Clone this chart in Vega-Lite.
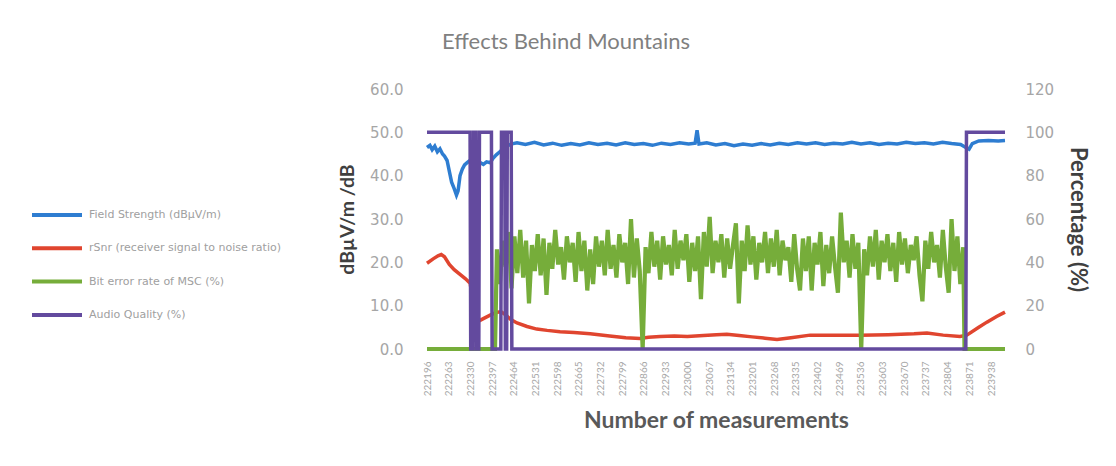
{
 "$schema": "https://vega.github.io/schema/vega-lite/v6.json",
 "width": 578, "height": 260,
 "autosize": {"type": "none"},
 "padding": {"left": 427, "top": 89, "right": 111, "bottom": 117},
 "background": "white",
 "config": {"view": {"stroke": null}, "font": "Lato", "axis": {"grid": false, "domain": false, "ticks": false}},
 "title": {"text": "Effects Behind Mountains", "fontSize": 22, "font": "Lato", "fontWeight": "normal", "color": "#808080", "anchor": "middle", "frame": "group", "dx": -150, "offset": 28},
 "encoding": {
  "x": {"field": "m", "type": "quantitative",
   "scale": {"domain": [222196, 223981], "nice": false, "zero": false},
   "axis": {"values": [222196,222263,222330,222397,222464,222531,222598,222665,222732,222799,222866,222933,223000,223067,223134,223201,223268,223335,223402,223469,223536,223603,223670,223737,223804,223871,223938],
    "format": "d", "labelAngle": -90, "labelFontSize": 10, "labelColor": "#a6a6a6", "labelPadding": 12,
    "title": "Number of measurements", "titleFontSize": 23, "titleFontWeight": "bold", "titleColor": "#595959", "titlePadding": 14}}
 },
 "layer": [
  {
   "encoding": {"y": {"field": "v", "type": "quantitative", "scale": {"domain": [0, 60], "nice": false},
     "axis": {"orient": "left", "values": [0,10,20,30,40,50,60], "format": ".1f", "labelFont": "DejaVu Sans", "labelFontSize": 15, "labelColor": "#a6a6a6", "labelPadding": 24,
      "title": "dBµV/m /dB", "titleFontSize": 19.5, "titleFontWeight": "bold", "titleColor": "#404040", "titlePadding": 12}}},
   "layer": [
    {
     "data": {"values": [
      {"m":222196,"v":46.5},{"m":222205,"v":47},{"m":222212,"v":46},{"m":222220,"v":46.8},{"m":222228,"v":45.5},{"m":222236,"v":46.2},{"m":222244,"v":45},{"m":222250,"v":44.5},{"m":222258,"v":43.5},{"m":222265,"v":41},{"m":222272,"v":38.5},{"m":222280,"v":37},{"m":222287,"v":35.5},{"m":222292,"v":36.5},{"m":222298,"v":40},{"m":222305,"v":41.5},{"m":222312,"v":42.5},{"m":222320,"v":43},{"m":222330,"v":43.6},{"m":222340,"v":43.2},{"m":222350,"v":43.8},{"m":222360,"v":43},{"m":222370,"v":42.6},{"m":222380,"v":43.2},{"m":222391,"v":43},{"m":222400,"v":44},{"m":222410,"v":44.8},{"m":222421,"v":45.5},{"m":222431,"v":46.3},{"m":222443,"v":46.8},{"m":222455,"v":47.3},
      {"m":222474,"v":47.6},{"m":222500,"v":47.2},{"m":222528,"v":47.7},{"m":222556,"v":47.1},{"m":222584,"v":47.5},{"m":222612,"v":47.0},{"m":222640,"v":47.4},{"m":222668,"v":47.1},{"m":222696,"v":47.6},{"m":222724,"v":47.2},{"m":222752,"v":47.5},{"m":222780,"v":47.1},{"m":222808,"v":47.6},{"m":222836,"v":47.2},{"m":222864,"v":47.4},{"m":222892,"v":47.0},{"m":222920,"v":47.5},{"m":222948,"v":47.2},{"m":222976,"v":47.6},{"m":223004,"v":47.3},{"m":223024,"v":47.5},{"m":223030,"v":50.5},{"m":223036,"v":47.3},{"m":223060,"v":47.6},{"m":223088,"v":47.1},{"m":223116,"v":47.4},{"m":223144,"v":46.9},{"m":223172,"v":47.3},{"m":223200,"v":47.0},{"m":223228,"v":47.4},{"m":223256,"v":47.1},{"m":223284,"v":47.5},{"m":223312,"v":47.2},{"m":223340,"v":47.6},{"m":223368,"v":47.3},{"m":223396,"v":47.6},{"m":223424,"v":47.2},{"m":223452,"v":47.5},{"m":223480,"v":47.3},{"m":223508,"v":47.7},{"m":223536,"v":47.3},{"m":223564,"v":47.6},{"m":223592,"v":47.2},{"m":223620,"v":47.5},{"m":223648,"v":47.3},{"m":223676,"v":47.7},{"m":223704,"v":47.4},{"m":223732,"v":47.6},{"m":223760,"v":47.3},{"m":223788,"v":47.7},{"m":223816,"v":47.4},{"m":223844,"v":47.2},{"m":223860,"v":46.5},{"m":223870,"v":46.1},{"m":223880,"v":47.4},{"m":223900,"v":48.0},{"m":223930,"v":48.1},{"m":223960,"v":48.0},{"m":223981,"v":48.1}
     ]},
     "mark": {"type": "line", "strokeWidth": 3.5},
     "encoding": {"color": {"datum": "Field Strength (dBµV/m)",
      "scale": {"domain": ["Field Strength (dBµV/m)", "rSnr (receiver signal to noise ratio)", "Bit error rate of MSC (%)", "Audio Quality (%)"], "range": ["#2e7dd1", "#e0452f", "#76ad3a", "#634a9e"]},
      "legend": {"orient": "none", "legendX": -397, "legendY": 118, "title": null, "symbolType": "stroke", "symbolSize": 2500, "symbolStrokeWidth": 4, "clipHeight": 16, "rowPadding": 17.3, "labelFont": "DejaVu Sans", "labelFontSize": 11, "labelColor": "#a0a0a0", "labelOffset": 5, "labelLimit": 400, "padding": 0}}}
    },
    {
     "data": {"values": [
      {"m":222196,"v":19.8},{"m":222215,"v":20.8},{"m":222230,"v":21.5},{"m":222240,"v":21.8},{"m":222250,"v":21.3},{"m":222265,"v":19.5},{"m":222280,"v":18.3},{"m":222298,"v":17.2},{"m":222315,"v":16.2},{"m":222329,"v":15.2},{"m":222350,"v":6.2},{"m":222370,"v":7},{"m":222391,"v":7.8},{"m":222412,"v":8.5},{"m":222425,"v":8.6},{"m":222440,"v":7.8},{"m":222455,"v":6.8},{"m":222474,"v":6},{"m":222505,"v":5.2},{"m":222535,"v":4.6},{"m":222567,"v":4.3},{"m":222607,"v":4},{"m":222650,"v":3.8},{"m":222700,"v":3.5},{"m":222760,"v":3.0},{"m":222810,"v":2.6},{"m":222854,"v":2.4},{"m":222880,"v":2.7},{"m":222916,"v":2.9},{"m":222960,"v":3.0},{"m":223000,"v":2.9},{"m":223050,"v":3.1},{"m":223090,"v":3.3},{"m":223122,"v":3.4},{"m":223160,"v":3.1},{"m":223200,"v":2.8},{"m":223240,"v":2.5},{"m":223277,"v":2.2},{"m":223320,"v":2.6},{"m":223379,"v":3.2},{"m":223450,"v":3.2},{"m":223533,"v":3.2},{"m":223620,"v":3.3},{"m":223700,"v":3.5},{"m":223740,"v":3.7},{"m":223790,"v":3.2},{"m":223842,"v":2.9},{"m":223863,"v":3.2},{"m":223900,"v":5},{"m":223925,"v":6.2},{"m":223955,"v":7.5},{"m":223981,"v":8.5}
     ]},
     "mark": {"type": "line", "strokeWidth": 3.5},
     "encoding": {"color": {"datum": "rSnr (receiver signal to noise ratio)"}}
    }
   ]
  },
  {
   "encoding": {"y": {"field": "v", "type": "quantitative", "scale": {"domain": [0, 120], "nice": false},
     "axis": {"orient": "right", "values": [0,20,40,60,80,100,120], "format": "d", "labelFont": "DejaVu Sans", "labelFontSize": 15, "labelColor": "#a6a6a6", "labelPadding": 20,
      "title": "Percentage (%)", "titleFontSize": 22, "titleFontWeight": "bold", "titleColor": "#404040", "titlePadding": 12}}},
   "layer": [
    {
     "data": {"values": [
      {"m":222196,"v":0},{"m":222406,"v":0},
      {"m":222412,"v":46},{"m":222421,"v":30},{"m":222430,"v":50},{"m":222439,"v":38},{"m":222448,"v":54},{"m":222457,"v":28},{"m":222466,"v":52},{"m":222475,"v":35},{"m":222484,"v":55},{"m":222493,"v":33},
      {"m":222502,"v":50},{"m":222511,"v":21},{"m":222520,"v":48},{"m":222529,"v":36},{"m":222538,"v":53},{"m":222547,"v":34},{"m":222556,"v":51},{"m":222565,"v":25},{"m":222574,"v":49},{"m":222583,"v":37},
      {"m":222592,"v":55},{"m":222601,"v":39},{"m":222610,"v":47},{"m":222619,"v":32},{"m":222628,"v":52},{"m":222637,"v":40},{"m":222646,"v":49},{"m":222655,"v":31},{"m":222664,"v":54},{"m":222673,"v":36},
      {"m":222682,"v":50},{"m":222691,"v":27},{"m":222700,"v":46},{"m":222709,"v":30},{"m":222718,"v":52},{"m":222727,"v":38},{"m":222736,"v":50},{"m":222745,"v":34},{"m":222754,"v":55},{"m":222763,"v":37},
      {"m":222772,"v":48},{"m":222781,"v":33},{"m":222790,"v":53},{"m":222799,"v":40},{"m":222808,"v":49},{"m":222817,"v":30},{"m":222826,"v":60},{"m":222835,"v":33},{"m":222844,"v":51},{"m":222853,"v":36},
      {"m":222862,"v":0},{"m":222871,"v":47},{"m":222880,"v":35},{"m":222889,"v":54},{"m":222898,"v":38},{"m":222907,"v":50},{"m":222916,"v":32},{"m":222925,"v":52},{"m":222934,"v":39},{"m":222943,"v":48},
      {"m":222952,"v":34},{"m":222961,"v":55},{"m":222970,"v":37},{"m":222979,"v":50},{"m":222988,"v":41},{"m":222997,"v":53},{"m":223006,"v":31},{"m":223015,"v":49},{"m":223024,"v":36},{"m":223033,"v":52},
      {"m":223042,"v":23},{"m":223051,"v":54},{"m":223060,"v":38},{"m":223069,"v":61},{"m":223078,"v":35},{"m":223087,"v":50},{"m":223096,"v":40},{"m":223105,"v":53},{"m":223114,"v":33},{"m":223123,"v":51},
      {"m":223132,"v":37},{"m":223141,"v":48},{"m":223150,"v":58},{"m":223159,"v":21},{"m":223168,"v":50},{"m":223177,"v":36},{"m":223186,"v":57},{"m":223195,"v":39},{"m":223204,"v":52},{"m":223213,"v":32},
      {"m":223222,"v":49},{"m":223231,"v":40},{"m":223240,"v":54},{"m":223249,"v":35},{"m":223258,"v":51},{"m":223267,"v":38},{"m":223276,"v":55},{"m":223285,"v":34},{"m":223294,"v":50},{"m":223303,"v":41},
      {"m":223312,"v":47},{"m":223321,"v":31},{"m":223330,"v":53},{"m":223339,"v":37},{"m":223348,"v":27},{"m":223357,"v":51},{"m":223366,"v":36},{"m":223375,"v":52},{"m":223384,"v":27},{"m":223393,"v":49},
      {"m":223402,"v":39},{"m":223411,"v":54},{"m":223420,"v":29},{"m":223429,"v":48},{"m":223438,"v":35},{"m":223447,"v":52},{"m":223456,"v":38},{"m":223465,"v":26},{"m":223474,"v":63},{"m":223483,"v":40},
      {"m":223492,"v":50},{"m":223501,"v":33},{"m":223510,"v":53},{"m":223519,"v":37},{"m":223528,"v":49},{"m":223537,"v":0},{"m":223546,"v":46},{"m":223555,"v":34},{"m":223564,"v":52},{"m":223573,"v":38},
      {"m":223582,"v":55},{"m":223591,"v":32},{"m":223600,"v":50},{"m":223609,"v":40},{"m":223618,"v":53},{"m":223627,"v":36},{"m":223636,"v":49},{"m":223645,"v":31},{"m":223654,"v":54},{"m":223663,"v":39},
      {"m":223672,"v":51},{"m":223681,"v":35},{"m":223690,"v":48},{"m":223699,"v":41},{"m":223708,"v":52},{"m":223717,"v":34},{"m":223726,"v":22},{"m":223735,"v":50},{"m":223744,"v":37},{"m":223753,"v":54},
      {"m":223762,"v":40},{"m":223771,"v":48},{"m":223780,"v":33},{"m":223789,"v":55},{"m":223798,"v":38},{"m":223807,"v":26},{"m":223816,"v":60},{"m":223825,"v":36},{"m":223834,"v":52},{"m":223843,"v":30},
      {"m":223852,"v":47},{"m":223856,"v":0},{"m":223981,"v":0}
     ]},
     "mark": {"type": "line", "strokeWidth": 4.2},
     "encoding": {"color": {"datum": "Bit error rate of MSC (%)"}}
    },
    {
     "data": {"values": [
      {"m":222196,"v":100},{"m":222329,"v":100},{"m":222331,"v":0},{"m":222338,"v":0},{"m":222340,"v":100},{"m":222347,"v":100},{"m":222349,"v":0},{"m":222356,"v":0},{"m":222358,"v":100},{"m":222395,"v":100},{"m":222397,"v":0},{"m":222424,"v":0},{"m":222426,"v":100},{"m":222436,"v":100},{"m":222438,"v":0},{"m":222442,"v":0},{"m":222444,"v":100},{"m":222456,"v":100},{"m":222458,"v":0},{"m":223860,"v":0},{"m":223862,"v":100},{"m":223981,"v":100}
     ]},
     "mark": {"type": "line", "strokeWidth": 3.5},
     "encoding": {"color": {"datum": "Audio Quality (%)"}}
    }
   ]
  }
 ],
 "resolve": {"scale": {"y": "independent"}}
}
